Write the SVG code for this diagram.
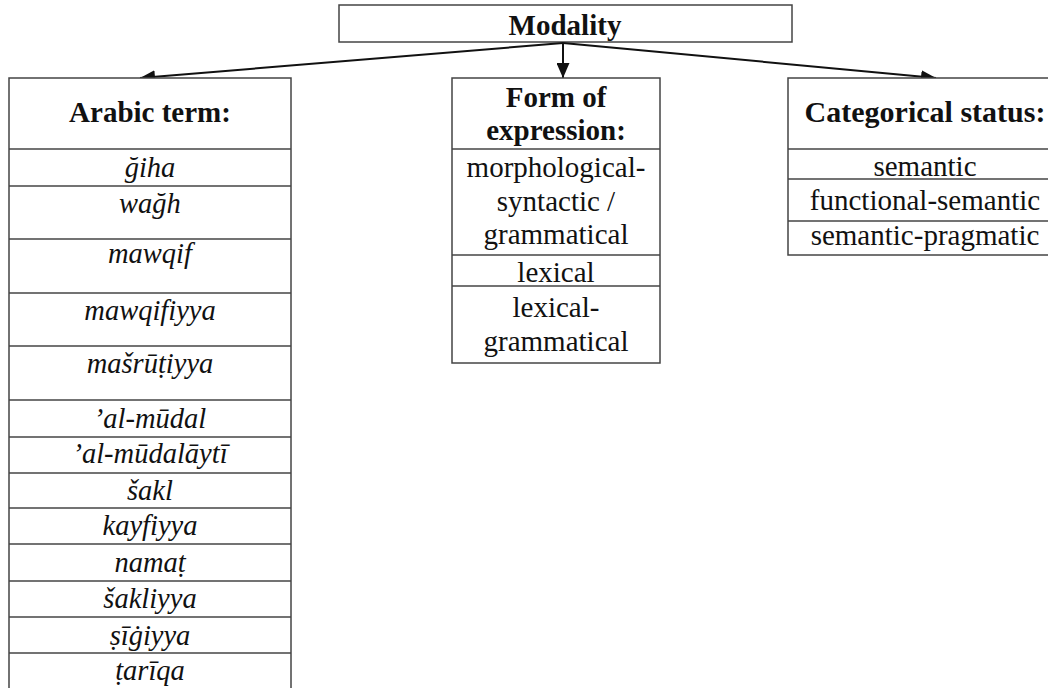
<svg xmlns="http://www.w3.org/2000/svg" width="1048" height="688" viewBox="0 0 1048 688">
<style>
.box{fill:#fff;stroke:#444;stroke-width:1.5}
.ln{stroke:#444;stroke-width:1.5}
.con{stroke:#111;stroke-width:2;fill:none}
text{font-family:"Liberation Serif","Times New Roman",serif;fill:#111;text-anchor:middle}
.h{font-weight:bold;font-size:29px}
.it{font-style:italic;font-size:28.5px}
.rg{font-size:29px}
</style>
<defs>
<marker id="arr" viewBox="0 0 15 13" refX="15" refY="6.5" markerWidth="15" markerHeight="13" markerUnits="userSpaceOnUse" orient="auto">
<path d="M0,0 L15,6.5 L0,13 Z" fill="#111"/>
</marker>
</defs>
<rect width="1048" height="688" fill="#fff"/>
<g id="modality">
<rect class="box" x="339" y="5" width="453" height="37"/>
<text class="h" x="565" y="35">Modality</text>
</g>
<g id="connectors">
<line class="con" x1="563" y1="43" x2="140" y2="78" marker-end="url(#arr)"/>
<line class="con" x1="563" y1="43" x2="563" y2="78" marker-end="url(#arr)"/>
<line class="con" x1="563" y1="43" x2="936" y2="78" marker-end="url(#arr)"/>
</g>
<g id="arabic-term">
<rect class="box" x="9" y="78" width="282" height="620"/>
<line class="ln" x1="9" y1="149" x2="291" y2="149"/>
<line class="ln" x1="9" y1="186" x2="291" y2="186"/>
<line class="ln" x1="9" y1="239" x2="291" y2="239"/>
<line class="ln" x1="9" y1="293" x2="291" y2="293"/>
<line class="ln" x1="9" y1="346" x2="291" y2="346"/>
<line class="ln" x1="9" y1="400" x2="291" y2="400"/>
<line class="ln" x1="9" y1="437" x2="291" y2="437"/>
<line class="ln" x1="9" y1="473" x2="291" y2="473"/>
<line class="ln" x1="9" y1="508" x2="291" y2="508"/>
<line class="ln" x1="9" y1="544" x2="291" y2="544"/>
<line class="ln" x1="9" y1="581" x2="291" y2="581"/>
<line class="ln" x1="9" y1="617" x2="291" y2="617"/>
<line class="ln" x1="9" y1="653" x2="291" y2="653"/>
<text class="h" x="150" y="122">Arabic term:</text>
<text class="it" x="150" y="177">ğiha</text>
<text class="it" x="150" y="213">wağh</text>
<text class="it" x="150" y="263">mawqif</text>
<text class="it" x="150" y="320">mawqifiyya</text>
<text class="it" x="150" y="373">mašrūṭiyya</text>
<text class="it" x="150" y="428">’al-mūdal</text>
<text class="it" x="150" y="463">’al-mūdalāytī</text>
<text class="it" x="150" y="500">šakl</text>
<text class="it" x="150" y="535">kayfiyya</text>
<text class="it" x="150" y="572">namaṭ</text>
<text class="it" x="150" y="608">šakliyya</text>
<text class="it" x="150" y="645">ṣīġiyya</text>
<text class="it" x="150" y="680">ṭarīqa</text>
</g>
<g id="form-of-expression">
<rect class="box" x="452" y="78" width="208" height="285"/>
<line class="ln" x1="452" y1="149" x2="660" y2="149"/>
<line class="ln" x1="452" y1="255" x2="660" y2="255"/>
<line class="ln" x1="452" y1="286" x2="660" y2="286"/>
<text class="h" x="556" y="107">Form of</text>
<text class="h" x="556" y="140">expression:</text>
<text class="rg" x="556" y="177">morphological-</text>
<text class="rg" x="556" y="211">syntactic /</text>
<text class="rg" x="556" y="244">grammatical</text>
<text class="rg" x="556" y="282">lexical</text>
<text class="rg" x="556" y="317">lexical-</text>
<text class="rg" x="556" y="351">grammatical</text>
</g>
<g id="categorical-status">
<rect class="box" x="788" y="78" width="280" height="177"/>
<line class="ln" x1="788" y1="149" x2="1068" y2="149"/>
<line class="ln" x1="788" y1="179" x2="1068" y2="179"/>
<line class="ln" x1="788" y1="221" x2="1068" y2="221"/>
<text class="h" x="925" y="122" style="font-size:30px">Categorical status:</text>
<text class="rg" x="925" y="176">semantic</text>
<text class="rg" x="925" y="210">functional-semantic</text>
<text class="rg" x="925" y="245">semantic-pragmatic</text>
</g>
</svg>
